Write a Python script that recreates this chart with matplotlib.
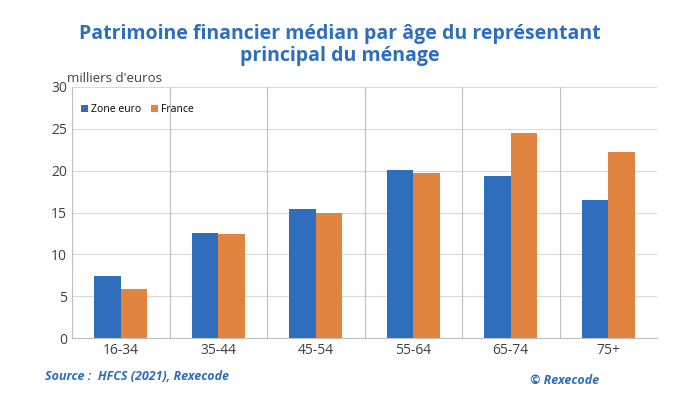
import numpy as np
import matplotlib.pyplot as plt

categories = ['16-34', '35-44', '45-54', '55-64', '65-74', '75+']
zone_euro = [7.4, 12.6, 15.4, 20.1, 19.4, 16.5]
france = [5.9, 12.4, 15.0, 19.7, 24.5, 22.2]

plt.rcParams['font.family'] = ['Open Sans', 'DejaVu Sans']
fig = plt.figure(figsize=(6.8, 4.13), dpi=100)
ax = fig.add_axes([72/680, 1-338/413, 585/680, 251/413])

x = np.arange(len(categories))
w = 0.27
ax.bar(x - w/2, zone_euro, w, color='#2F6EBC', label='Zone euro')
ax.bar(x + w/2, france, w, color='#E0843F', label='France')

ax.set_xlim(-0.5, len(categories) - 0.5)
ax.set_ylim(0, 30)
ax.set_yticks(range(0, 31, 5))
ax.set_xticks(x)
ax.set_xticklabels(categories)
ax.tick_params(length=0, labelsize=10, colors='#404040')
for v in range(5, 31, 5):
    ax.axhline(v, color='#D9D9D9', lw=0.8, zorder=0)
for b in np.arange(0.5, len(categories) - 0.5, 1):
    ax.axvline(b, color='#BFBFBF', lw=0.8, zorder=0)
for s in ['top', 'right']:
    ax.spines[s].set_visible(False)
ax.spines['left'].set_color('#BFBFBF')
ax.spines['bottom'].set_color('#BFBFBF')

ax.legend(loc='upper left', bbox_to_anchor=(0.0, 0.97), frameon=False,
          fontsize=7.5, handlelength=0.6, handleheight=0.6, handletextpad=0.3,
          ncol=2, columnspacing=1.0)

fig.text(67/680, 1-78/413, "milliers d'euros", fontsize=9.5, color='#404040', va='center')
fig.text(340/680, 1-45/413, 'Patrimoine financier médian par âge du représentant\nprincipal du ménage',
         ha='center', va='center', fontsize=14, fontweight='bold', color='#2F6EBC', linespacing=1.2)
fig.text(45/680, 1-376/413, 'Source :  HFCS (2021), Rexecode', fontsize=9, fontweight='bold',
         style='italic', color='#2F6EBC', va='center')
fig.text(530/680, 1-380/413, '© Rexecode', fontsize=9, fontweight='bold',
         style='italic', color='#2F6EBC', va='center')

fig.savefig('out.png', dpi=100)
